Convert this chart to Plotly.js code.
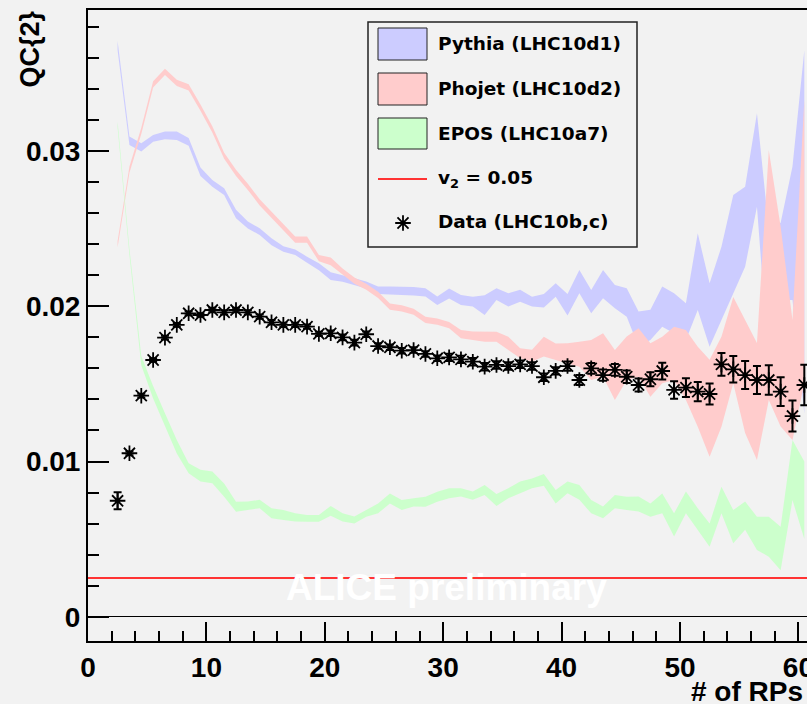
<!DOCTYPE html>
<html><head><meta charset="utf-8">
<script src="https://cdn.plot.ly/plotly-3.0.1.min.js"></script>
<style>html,body{margin:0;padding:0;overflow:hidden;background:#f2f2f2;} #plot{width:830px;height:704px;}</style>
</head><body><div id="plot"></div>
<script>
// ---- data ----
const rps = [2.5,3.5,4.5,5.5,6.5,7.5,8.5,9.5,10.5,11.5,
  12.5,13.5,14.5,15.5,16.5,17.5,18.5,19.5,20.5,21.5,
  22.5,23.5,24.5,25.5,26.5,27.5,28.5,29.5,30.5,31.5,
  32.5,33.5,34.5,35.5,36.5,37.5,38.5,39.5,40.5,41.5,
  42.5,43.5,44.5,45.5,46.5,47.5,48.5,49.5,50.5,51.5,
  52.5,53.5,54.5,55.5,56.5,57.5,58.5,59.5,60.5];

const dataQC = [0.00747,0.01053,0.01424,0.01654,0.01798,0.01880,0.01955,0.01944,0.01976,0.01961,
  0.01976,0.01961,0.01933,0.01897,0.01880,0.01880,0.01869,0.01822,0.01826,0.01800,
  0.01766,0.01820,0.01744,0.01736,0.01714,0.01718,0.01693,0.01665,0.01671,0.01658,
  0.01643,0.01611,0.01622,0.01615,0.01626,0.01615,0.01543,0.01584,0.01615,0.01525,
  0.01600,0.01557,0.01590,0.01546,0.01493,0.01530,0.01583,0.01461,0.01476,0.01450,
  0.01435,0.01626,0.01594,0.01557,0.01525,0.01525,0.01450,0.01293,0.01493];
const dataErr = [0.00055,0.00012,0.00012,0.00012,0.00012,0.00012,0.00012,0.00012,0.00014,0.00014,
  0.00014,0.00014,0.00014,0.00014,0.00014,0.00014,0.00014,0.00014,0.00018,0.00018,
  0.00018,0.00018,0.00018,0.00018,0.00018,0.00018,0.00018,0.00018,0.00024,0.00024,
  0.00024,0.00024,0.00024,0.00024,0.00024,0.00024,0.00024,0.00024,0.0003,0.00032,
  0.00034,0.00036,0.00038,0.0004,0.00042,0.00045,0.00054,0.00056,0.0006,0.00062,
  0.00068,0.00073,0.00085,0.0009,0.0009,0.00095,0.00093,0.001,0.0013];

const pythiaQC = [0.0368,0.03067,0.03024,0.03082,0.03102,0.03099,0.03059,0.02867,0.02792,0.02739,
  0.02595,0.02524,0.02481,0.02416,0.02369,0.02348,0.02300,0.02255,0.02195,0.02180,
  0.02159,0.02137,0.02103,0.02101,0.02101,0.02097,0.02090,0.02036,0.02083,0.02041,
  0.02030,0.02008,0.02079,0.02041,0.02068,0.02030,0.02036,0.02105,0.0201,0.02159,
  0.0203,0.02143,0.02062,0.02025,0.01853,0.0188,0.01998,0.01955,0.01901,0.02223,
  0.01944,0.02148,0.024,0.02513,0.02943,0.02063,0.02288,0.0247,0.0248];
const pythiaErr = [0.0003,0.00027,0.00027,0.00022,0.00025,0.00027,0.00025,0.00027,0.00022,0.00022,
  0.00027,0.00022,0.00022,0.00022,0.00018,0.00018,0.0002,0.00022,0.00025,0.00022,
  0.00022,0.00022,0.00024,0.00027,0.00027,0.00027,0.00027,0.00027,0.00032,0.00032,
  0.00032,0.00064,0.00038,0.00043,0.00038,0.00032,0.00043,0.00043,0.0007,0.00075,
  0.00075,0.00091,0.00075,0.00092,0.00113,0.00097,0.00129,0.00129,0.00118,0.00247,
  0.00204,0.00236,0.00317,0.00258,0.00301,0.0043,0.0025,0.0043,0.0117];

const phojetQC = [0.0240,0.0288,0.0313,0.0343,0.0351,0.0344,0.0341,0.0328,0.0314,0.0297,
  0.0286,0.0277,0.0267,0.0259,0.0251,0.0243,0.0243,0.0231,0.0229,0.02223,
  0.02165,0.02126,0.02073,0.01998,0.01987,0.01965,0.01912,0.01901,0.01879,0.01821,
  0.01811,0.01804,0.01804,0.01761,0.01697,0.01682,0.0174,0.01707,0.01697,0.01691,
  0.01654,0.01686,0.01557,0.01665,0.01702,0.0159,0.01654,0.01697,0.01622,0.01482,
  0.01343,0.01514,0.01782,0.01548,0.01387,0.02201,0.01869,0.01525,0.02418];
const phojetErr = [0.0002,0.0002,0.0002,0.0002,0.0002,0.0002,0.0002,0.0002,0.0002,0.0002,
  0.0002,0.0002,0.0002,0.0002,0.0002,0.0002,0.0002,0.0002,0.00025,0.0002,
  0.0002,0.0002,0.0002,0.0002,0.0002,0.0002,0.0002,0.0002,0.0002,0.00027,
  0.00027,0.00032,0.00032,0.00043,0.00032,0.00038,0.00064,0.00054,0.00065,0.0008,
  0.00129,0.0014,0.00161,0.0014,0.00156,0.00172,0.0015,0.00172,0.00226,0.00258,
  0.00312,0.0029,0.00278,0.00364,0.00377,0.00805,0.00644,0.00387,0.00912];

const eposQC = [0.0317,0.0235,0.0165,0.01446,0.01268,0.01095,0.00956,0.00909,0.00898,0.00816,
  0.00709,0.00715,0.00726,0.00666,0.00655,0.0064,0.00634,0.00634,0.00682,0.0064,
  0.00623,0.00666,0.00698,0.00762,0.0072,0.00737,0.00741,0.00773,0.00795,0.00801,
  0.0078,0.00816,0.00752,0.00795,0.00833,0.00859,0.00881,0.00773,0.00833,0.00801,
  0.00709,0.00672,0.00741,0.0073,0.00726,0.00687,0.0073,0.00591,0.00737,0.00629,
  0.00526,0.00752,0.0058,0.00651,0.00537,0.00515,0.0044,0.00945,0.0075];
const eposErr = [0.0002,0.0002,0.0003,0.0004,0.00043,0.00043,0.00032,0.00038,0.00038,0.00043,
  0.00032,0.00027,0.00027,0.00032,0.00032,0.00027,0.00022,0.00022,0.00032,0.00027,
  0.00022,0.00022,0.00032,0.00032,0.00032,0.00027,0.00032,0.00032,0.00032,0.00027,
  0.00027,0.00032,0.00038,0.00032,0.00038,0.00032,0.00038,0.00043,0.00038,0.00048,
  0.00043,0.00038,0.00043,0.00043,0.00048,0.00043,0.00064,0.00075,0.0007,0.0007,
  0.00075,0.00086,0.00107,0.00091,0.00107,0.00129,0.0014,0.00193,0.0025];

const v2 = 0.05;
const legendLabels = ['Pythia (LHC10d1)','Phojet (LHC10d2)','EPOS (LHC10a7)','v<sub>2</sub> = 0.05','Data (LHC10b,c)'];
const colPythia = '#ccccff', colPhojet = '#ffcccc', colEpos = '#ccffcc';

// ---- layout helpers (pixel -> paper) ----
const ML = 88, MT = 10, W = 830, H = 704, MR = 8, MB = 63;
const PW = W - ML - MR, PH = H - MT - MB;
const PX = p => (p - ML) / PW;
const PY = p => (H - MB - p) / PH;

function band(name, qc, err, color) {
  const hi = qc.map((v, i) => v + err[i]);
  const lo = qc.map((v, i) => v - err[i]);
  return {
    x: rps.concat(rps.slice().reverse()),
    y: hi.concat(lo.slice().reverse()),
    type: 'scatter', mode: 'lines', fill: 'toself', fillcolor: color,
    line: {width: 0, color: color}, name: name, hoverinfo: 'skip', showlegend: false
  };
}

const starMarker = {symbol: 'asterisk-open', size: 13, color: 'black', line: {width: 1.8, color: 'black'}};

const traces = [
  band('Pythia', pythiaQC, pythiaErr, colPythia),
  band('Phojet', phojetQC, phojetErr, colPhojet),
  band('EPOS', eposQC, eposErr, colEpos),
  {
    x: rps, y: dataQC, type: 'scatter', mode: 'markers', name: 'Data',
    marker: starMarker,
    error_y: {type: 'data', array: dataErr, visible: true, color: 'black', thickness: 2, width: 4},
    showlegend: false
  },
  {
    x: rps, y: dataQC, type: 'scatter', mode: 'markers', name: 'Data',
    marker: {symbol: 'circle', size: 5, color: 'black'}, showlegend: false, hoverinfo: 'skip'
  },
  // legend glyph for the data marker (on an overlay axis in paper units)
  {
    x: [PX(403)], y: [PY(223)], xaxis: 'x2', yaxis: 'y2', type: 'scatter', mode: 'markers',
    marker: starMarker, showlegend: false, hoverinfo: 'skip'
  }
];

const fontFam = 'Liberation Sans, Arial, Helvetica, sans-serif';
const legFam = 'DejaVu Sans, Verdana, sans-serif';

const shapes = [
  {type: 'line', xref: 'paper', x0: 0, x1: 1, yref: 'y', y0: v2 * v2, y1: v2 * v2,
   line: {color: '#ff3333', width: 2}, layer: 'above'},
  {type: 'rect', xref: 'paper', yref: 'paper', x0: PX(368), x1: PX(637), y0: PY(247), y1: PY(22),
   line: {color: '#222', width: 1.5}, fillcolor: '#f2f2f2', layer: 'below'},
  {type: 'rect', xref: 'paper', yref: 'paper', x0: PX(378), x1: PX(427), y0: PY(60), y1: PY(28),
   line: {color: '#222', width: 1}, fillcolor: colPythia, layer: 'below'},
  {type: 'rect', xref: 'paper', yref: 'paper', x0: PX(378), x1: PX(427), y0: PY(105), y1: PY(73),
   line: {color: '#222', width: 1}, fillcolor: colPhojet, layer: 'below'},
  {type: 'rect', xref: 'paper', yref: 'paper', x0: PX(378), x1: PX(427), y0: PY(149), y1: PY(118),
   line: {color: '#222', width: 1}, fillcolor: colEpos, layer: 'below'},
  {type: 'line', xref: 'paper', yref: 'paper', x0: PX(378), x1: PX(427), y0: PY(179), y1: PY(179),
   line: {color: '#ff3333', width: 2}, layer: 'below'}
];

const legY = [43.5, 88.5, 133.5, 179, 221.5];
const annotations = legY.map((py, i) => ({
  xref: 'paper', yref: 'paper', x: PX(436), y: PY(py), xanchor: 'left', yanchor: 'middle',
  text: legendLabels[i], showarrow: false,
  font: {family: legFam, size: 18.5, weight: 'bold', color: 'black'}
}));
annotations.push(
  {xref: 'paper', yref: 'paper', x: PX(29), y: PY(49.5), textangle: -90, xanchor: 'center', yanchor: 'middle',
   text: 'QC{2}', showarrow: false, font: {family: fontFam, size: 27, weight: 'bold', color: 'black'}},
  {xref: 'paper', yref: 'paper', x: PX(805), y: PY(691), xanchor: 'right', yanchor: 'middle',
   text: '# of RPs', showarrow: false, font: {family: fontFam, size: 28, weight: 'bold', color: 'black'}},
  {xref: 'paper', yref: 'paper', x: PX(446), y: PY(587.5), xanchor: 'center', yanchor: 'middle',
   text: 'ALICE preliminary', showarrow: false, font: {family: fontFam, size: 37, weight: 'bold', color: '#ffffff'}}
);

const tickFont = {family: fontFam, size: 28, weight: 'bold', color: 'black'};
const layout = {
  width: W, height: H,
  margin: {l: ML, r: MR, t: MT, b: MB, pad: 0},
  paper_bgcolor: '#f2f2f2', plot_bgcolor: '#f2f2f2',
  showlegend: false,
  xaxis: {
    range: [0, PW / 11.84], tick0: 0, dtick: 10, ticks: 'inside', ticklen: 19, tickwidth: 2, tickcolor: 'black',
    minor: {dtick: 2, tick0: 0, ticks: 'inside', ticklen: 10, tickwidth: 2, tickcolor: 'black', showgrid: false},
    showline: true, linecolor: 'black', linewidth: 2, mirror: true, showgrid: false, zeroline: false,
    tickfont: tickFont
  },
  yaxis: {
    range: [-(H - MB - 616.7) / 15520, (616.7 - MT) / 15520], tick0: 0, dtick: 0.01,
    ticks: 'inside', ticklen: 21, tickwidth: 2, tickcolor: 'black',
    minor: {dtick: 0.002, tick0: 0, ticks: 'inside', ticklen: 11, tickwidth: 2, tickcolor: 'black', showgrid: false},
    showline: true, linecolor: 'black', linewidth: 2, mirror: true, showgrid: false,
    zeroline: true, zerolinecolor: 'black', zerolinewidth: 1.5,
    tickfont: tickFont
  },
  xaxis2: {overlaying: 'x', range: [0, 1], visible: false, fixedrange: true},
  yaxis2: {overlaying: 'y', range: [0, 1], visible: false, fixedrange: true},
  shapes: shapes,
  annotations: annotations
};

Plotly.newPlot('plot', traces, layout, {staticPlot: true, displayModeBar: false});
</script>
</body></html>
